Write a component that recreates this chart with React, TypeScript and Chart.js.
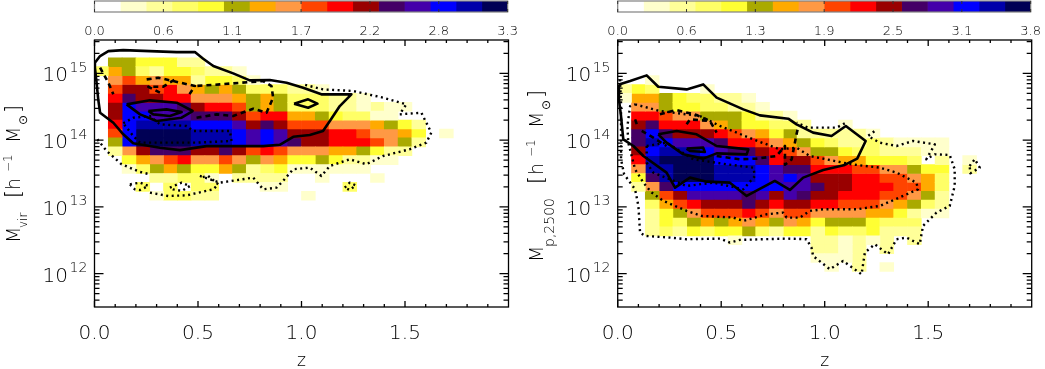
import React, { useEffect, useRef } from "react";
import { Chart, registerables } from "chart.js";

Chart.register(...registerables);

const LEVEL_COLORS = ["#FFFFFF", "#FFFFCC", "#FFFF99", "#FFFF66", "#FFFF33", "#AAAA00", "#FFAA00", "#FF9944", "#FF4400", "#FF0000", "#990000", "#440066", "#4400AA", "#0000FF", "#0000AA", "#000055"];
const X_TICKS = ["0.0", "0.5", "1.0", "1.5"];
const Y_EXPONENTS = [15, 14, 13, 12];
const BAR_LABELS_LEFT = ["0.0", "0.6", "1.1", "1.7", "2.2", "2.8", "3.3"];
const BAR_LABELS_RIGHT = ["0.0", "0.6", "1.3", "1.9", "2.5", "3.1", "3.8"];
const BAR_MAX_LEFT = 3.3;
const BAR_MAX_RIGHT = 3.8;

// Density level per cell: one hex digit per z bin, rows from the top of the plot, first row index 2.
const GRID_LEFT = [
  "055444220",
  "36532443221",
  "0786766244310",
  "08AA8976565333221",
  "09BAA997776565333221",
  "0ADCCCBA998565333221211",
  "0ADDCCCBBBA89966543311",
  "09DEEEEDDDCABA8887776542",
  "08DFFFFEEEDCDCAAA998776401",
  "05DFFFFEEEDCDCBAA9998752",
  "027ABBBAABA898777665422",
  "0046789778757644542211",
  "00135654465234111111",
  "000022331022220010001",
  "0003030330001100003",
  "0000133220000001",
];
const GRID_RIGHT = [
  "",
  "",
  "001",
  "2430001",
  "1665433221",
  "07754433221",
  "0998775554221",
  "0AB99976544332001",
  "0BDBAAA987645222221",
  "0BEDCCCB9987654322321111",
  "0ADEEEDCBBA9875543322211",
  "09EFFFFDDDB9AA876644430201",
  "07EEFFFEEEDCBB999887754402",
  "04BEFFFEEEDCDCAAA9988763",
  "027BDDDDDDDDCCBAA9998863",
  "0058ACCCCBCACBAA99988752",
  "003689AAABA9AA9988876532",
  "002457888987887777664211",
  "0024356567657645554333",
  "0023243445324424334222",
  "0000000010000022121202",
  "00000000000000221202",
  "000000000000001112",
  "00000000000000010201",
];

// Contours as [z, log10 M] pairs.
const L_SOLID = [[.002,15.16],[.027,15.26],[.067,15.334],[.139,15.349],[.268,15.334],[.397,15.319],[.485,15.319],[.525,15.22],[.574,15.11],[.67,15.0],[.75,14.895],[.847,14.9],[.928,14.86],[1.008,14.785],[1.096,14.686],[1.241,14.686],[1.185,14.51],[1.137,14.286],[1.104,14.137],[1.04,14.077],[.96,14.05],[.895,13.93],[.815,13.91],[.767,13.91],[.541,13.91],[.413,13.85],[.316,13.887],[.187,13.952],[.139,14.087],[.091,14.26],[.027,14.41],[.018,14.61],[.01,14.86],[.002,15.085],[.002,15.16]];
const L_SOLID_2 = [[.964,14.546],[1.032,14.611],[1.077,14.546],[1.032,14.486],[.964,14.546]];
const L_SOLID_3 = [[.155,14.536],[.268,14.596],[.397,14.561],[.474,14.436],[.421,14.336],[.3,14.286],[.22,14.386],[.155,14.536]];
const L_SOLID_4 = [[.26,14.436],[.348,14.461],[.421,14.421],[.364,14.361],[.284,14.386],[.26,14.436]];
const L_DASH_1 = [[.027,15.085],[.067,14.86],[.091,14.686]];
const L_DASH_2 = [[.252,14.91],[.308,14.935],[.38,14.885],[.485,14.81],[.453,14.661]];
const L_DASH_3 = [[.316,14.711],[.26,14.8],[.332,14.8],[.389,14.91]];
const L_DASH_4 = [[.493,14.336],[.59,14.386],[.67,14.361],[.767,14.471],[.831,14.411],[.863,14.636],[.855,14.81],[.815,14.885],[.606,14.835],[.485,14.81]];
const L_DOT_1 = [[.014,14.012],[.059,13.837],[.131,13.638],[.22,13.523],[.268,13.488]];
const L_DOT_2 = [[.509,13.463],[.606,13.363],[.767,13.438],[.815,13.263],[.879,13.288],[.911,13.388],[.959,13.563],[1.04,13.588],[1.096,13.463],[1.137,13.613],[1.233,13.713],[1.313,13.638],[1.394,13.762],[1.522,13.862],[1.603,13.962],[1.627,14.112],[1.603,14.261],[1.579,14.411],[1.474,14.386],[1.506,14.536],[1.394,14.636],[1.249,14.736],[1.104,14.76],[1.008,14.835]];
const L_DOT_3 = [[.171,13.338],[.22,13.363],[.26,13.313],[.22,13.253],[.195,13.263],[.171,13.338]];
const L_DOT_4 = [[.364,13.288],[.421,13.363],[.461,13.313],[.421,13.238],[.38,13.263],[.364,13.288]];
const L_DOT_5 = [[.268,13.213],[.356,13.163],[.445,13.173],[.574,13.263],[.598,13.338],[.549,13.463],[.509,13.438]];
const L_DOT_6 = [[1.209,13.288],[1.233,13.363],[1.262,13.323],[1.233,13.253],[1.209,13.288]];
const L_DOT_7 = [[.139,14.252],[.187,14.336],[.268,14.361],[.316,14.237],[.445,14.212],[.477,14.137],[.654,14.137],[.662,13.987],[.493,13.962],[.22,13.962],[.187,14.062],[.139,14.252]];

const R_SOLID = [[.006,14.835],[.06,14.885],[.14,14.97],[.196,14.8],[.333,14.76],[.413,14.835],[.478,14.636],[.607,14.461],[.687,14.371],[.824,14.321],[.864,14.237],[.944,14.112],[1.033,14.062],[1.102,14.212],[1.198,13.987],[1.157,13.723],[1.097,13.628],[.993,13.553],[.896,13.438],[.832,13.253],[.759,13.388],[.623,13.164],[.542,13.363],[.43,13.378],[.349,13.438],[.277,13.288],[.236,13.513],[.124,13.762],[.076,13.912],[.027,14.012],[.016,14.361],[.006,14.611],[.006,14.835]];
const R_SOLID_2 = [[.196,14.087],[.285,14.137],[.381,14.087],[.478,13.912],[.631,13.862],[.623,13.787],[.478,13.802],[.413,13.723],[.317,13.787],[.236,13.962],[.196,14.087]];
const R_SOLID_3 = [[.333,13.872],[.413,13.887],[.421,13.822],[.349,13.837],[.333,13.872]];
const R_DASH_1 = [[.204,14.386],[.285,14.451],[.381,14.376],[.446,14.286],[.478,14.112]];
const R_DASH_2 = [[.333,14.237],[.349,14.311],[.446,14.286]];
const R_DASH_3 = [[.084,14.311],[.095,14.212]];
const R_DASH_4 = [[.116,14.137],[.172,14.037],[.236,13.912]];
const R_DASH_5 = [[.478,13.762],[.59,13.713],[.671,13.723],[.767,13.762],[.808,13.912],[.808,13.63],[.84,13.71],[.864,14.087],[.872,14.2]];
const R_DOT_1 = [[.011,14.91],[.016,14.561],[.016,14.112],[.016,13.713],[.031,13.488],[.084,13.263],[.1,13.014],[.108,12.615],[.132,12.565],[.253,12.54],[.333,12.515],[.494,12.525],[.542,12.465],[.59,12.505],[.816,12.525],[.912,12.515],[.936,12.39],[.944,12.265],[1.025,12.066],[1.089,12.19],[1.178,11.99],[1.194,12.315],[1.242,12.44],[1.306,12.29],[1.347,12.515],[1.395,12.54],[1.459,12.44],[1.475,12.715],[1.54,12.914],[1.604,13.014],[1.628,13.313],[1.628,13.563],[1.604,13.777],[1.532,13.787],[1.491,13.713],[1.532,13.937],[1.427,13.987],[1.347,13.912],[1.266,13.962],[1.209,14.062],[1.242,14.137]];
const R_DOT_1B = [[1.097,14.251],[1.057,14.187],[.92,14.187],[.864,14.261]];
const R_DOT_2 = [[.084,14.536],[.204,14.436],[.397,14.361],[.494,14.212],[.655,14.012],[.783,13.862],[.864,13.887],[.928,13.762],[1.129,13.638],[1.266,13.588],[1.347,13.513],[1.443,13.363],[1.451,13.263],[1.379,13.164],[1.266,13.014],[1.154,12.964],[.993,12.964],[.928,12.939],[.88,12.839],[.816,12.839],[.8,12.914],[.719,12.889],[.606,12.79],[.558,12.84],[.405,12.865],[.333,12.94],[.22,13.09],[.164,13.215],[.124,13.363],[.084,13.563],[.051,13.962],[.047,14.212],[.06,14.51],[.084,14.536]];
const R_DOT_3 = [[1.7,13.613],[1.725,13.713],[1.749,13.588],[1.704,13.503],[1.7,13.613]];
const R_DOT_4 = [[.14,13.912],[.236,13.962],[.365,13.713],[.526,13.638],[.655,13.588],[.663,13.463],[.607,13.263],[.462,13.363],[.333,13.313],[.172,13.513],[.14,13.663],[.14,13.912]];

const SOLID_LEFT = [L_SOLID, L_SOLID_2, L_SOLID_3, L_SOLID_4];
const DASH_LEFT = [L_DASH_1, L_DASH_2, L_DASH_3, L_DASH_4];
const DOT_LEFT = [L_DOT_1, L_DOT_2, L_DOT_3, L_DOT_4, L_DOT_5, L_DOT_6, L_DOT_7];
const SOLID_RIGHT = [R_SOLID, R_SOLID_2, R_SOLID_3];
const DASH_RIGHT = [R_DASH_1, R_DASH_2, R_DASH_3, R_DASH_4, R_DASH_5];
const DOT_RIGHT = [R_DOT_1, R_DOT_1B, R_DOT_2, R_DOT_3, R_DOT_4];

const FONT = "'DejaVu Sans'";
const WEIGHT = "200";
const TEXT = "#000000";
const Z_MAX = 2;
const LOG_MIN = 11.5;
const LOG_MAX = 15.5;
const NBINS = 30;

function cellDatasets(rows: string[]) {
  const buckets: any[][] = LEVEL_COLORS.map(() => []);
  rows.forEach((row, i) => {
    const r = i + 2;
    const hi = LOG_MAX - (r * (LOG_MAX - LOG_MIN)) / NBINS;
    const lo = hi - (LOG_MAX - LOG_MIN) / NBINS;
    [...row].forEach((ch, k) => {
      const level = parseInt(ch, 16);
      if (level > 0) buckets[level].push({ x: ((k + 0.5) * Z_MAX) / NBINS, y: [10 ** lo, 10 ** hi] });
    });
  });
  return buckets.map((data, level) => ({
    type: "bar",
    label: "level " + level,
    data,
    backgroundColor: LEVEL_COLORS[level],
    grouped: false,
    barPercentage: 1,
    categoryPercentage: 1,
    order: 1,
  }));
}

function contourDatasets(paths: number[][][], width: number, dash: number[]) {
  return paths.map((p) => ({
    type: "line",
    label: "contour",
    data: p.map(([x, lg]) => ({ x, y: 10 ** lg })),
    borderColor: "#000",
    borderWidth: width,
    borderDash: dash,
    borderJoinStyle: "round",
    pointRadius: 0,
    fill: false,
    tension: 0,
    order: 0,
  }));
}

function rotText(ctx: any, text: string, size: number, xBase: number, yStart: number) {
  ctx.save();
  ctx.font = `${WEIGHT} ${size}px ${FONT}`;
  ctx.translate(xBase, yStart);
  ctx.rotate(-Math.PI / 2);
  ctx.textAlign = "left";
  ctx.textBaseline = "alphabetic";
  ctx.fillStyle = TEXT;
  ctx.fillText(text, 0, 0);
  ctx.restore();
}

function panelPlugin(titleParts: [string, number, number, number][]) {
  return {
    id: "panelDecor",
    afterDraw(chart: any) {
      const { ctx, chartArea: a, scales } = chart;
      const xs = scales.x;
      const ys = scales.y;
      ctx.save();
      ctx.strokeStyle = "#000";
      ctx.lineWidth = 1.3;
      ctx.strokeRect(a.left, a.top, a.right - a.left, a.bottom - a.top);
      ctx.beginPath();
      for (let i = 0; i <= 19; i++) {
        const px = xs.getPixelForValue(i / 10);
        const len = i % 5 === 0 ? 6 : 3;
        ctx.moveTo(px, a.bottom);
        ctx.lineTo(px, a.bottom - len);
        ctx.moveTo(px, a.top);
        ctx.lineTo(px, a.top + len);
      }
      for (let n = 11; n <= 15; n++) {
        for (let m = 1; m <= 9; m++) {
          const v = m * 10 ** n;
          if (v < 10 ** LOG_MIN || v > 10 ** LOG_MAX) continue;
          const py = ys.getPixelForValue(v);
          const len = m === 1 ? 9 : 5;
          ctx.moveTo(a.left, py);
          ctx.lineTo(a.left + len, py);
          ctx.moveTo(a.right, py);
          ctx.lineTo(a.right - len, py);
        }
      }
      ctx.stroke();
      ctx.fillStyle = TEXT;
      ctx.textAlign = "left";
      ctx.textBaseline = "alphabetic";
      Y_EXPONENTS.forEach((e) => {
        const py = ys.getPixelForValue(10 ** e);
        ctx.font = `${WEIGHT} 20px ${FONT}`;
        ctx.fillText("10", a.left - 52, py + 8);
        ctx.font = `${WEIGHT} 14px ${FONT}`;
        ctx.fillText(String(e), a.left - 25, py - 1.5);
      });
      ctx.restore();
      titleParts.forEach(([t, size, x, y]) => rotText(ctx, t, size, x, y));
    },
  };
}

function makePanel(canvas: HTMLCanvasElement, grid: string[], solid: number[][][], dash: number[][][], dot: number[][][], leftAxis: number, rightPad: number, titleParts: any) {
  return new Chart(canvas, {
    type: "bar",
    data: {
      datasets: [
        ...contourDatasets(solid, 2.6, []),
        ...contourDatasets(dash, 2.6, [5, 4]),
        ...contourDatasets(dot, 2.4, [2, 3.5]),
        ...cellDatasets(grid),
      ] as any,
    },
    options: {
      responsive: false,
      animation: false,
      events: [],
      layout: { padding: { left: 0, right: rightPad, top: 2, bottom: 0 } },
      plugins: { legend: { display: false }, tooltip: { enabled: false } },
      scales: {
        x: {
          type: "linear",
          offset: false,
          min: 0,
          max: Z_MAX,
          grid: { display: false },
          border: { display: false },
          afterFit: (s: any) => { s.height = 62; },
          afterBuildTicks: (s: any) => { s.ticks = X_TICKS.map((t) => ({ value: parseFloat(t) })); },
          ticks: {
            autoSkip: false,
            maxRotation: 0,
            padding: 7,
            color: TEXT,
            font: { family: FONT, size: 20, weight: WEIGHT },
            callback: (v: any) => Number(v).toFixed(1),
          },
          title: { display: true, text: "z", color: TEXT, font: { family: FONT, size: 17, weight: WEIGHT }, padding: { top: 0, bottom: -3 } },
        },
        y: {
          type: "logarithmic",
          bounds: "data",
          min: 10 ** LOG_MIN,
          max: 10 ** LOG_MAX,
          grid: { display: false },
          border: { display: false },
          ticks: { display: false },
          afterFit: (s: any) => { s.width = leftAxis; },
        },
      } as any,
    },
    plugins: [panelPlugin(titleParts)],
  } as any);
}

function colorbarPlugin() {
  return {
    id: "barDecor",
    afterDraw(chart: any) {
      const { ctx, chartArea: a, scales } = chart;
      ctx.save();
      ctx.strokeStyle = "#808080";
      ctx.lineWidth = 1.2;
      ctx.strokeRect(a.left, a.top, a.right - a.left, a.bottom - a.top);
      ctx.strokeStyle = "#333";
      ctx.lineWidth = 1;
      ctx.beginPath();
      scales.x.ticks.forEach((t: any) => {
        const px = scales.x.getPixelForValue(t.value);
        ctx.moveTo(px, a.top);
        ctx.lineTo(px, a.top + 3);
        ctx.moveTo(px, a.bottom);
        ctx.lineTo(px, a.bottom - 3);
      });
      ctx.stroke();
      ctx.restore();
    },
  };
}

function makeBar(canvas: HTMLCanvasElement, labels: string[], max: number, left: number, rightPad: number) {
  return new Chart(canvas, {
    type: "bar",
    data: {
      labels: ["scale"],
      datasets: LEVEL_COLORS.map((c, i) => ({
        label: "level " + i,
        data: [max / LEVEL_COLORS.length],
        backgroundColor: c,
        barPercentage: 1,
        categoryPercentage: 1,
      })),
    },
    options: {
      indexAxis: "y",
      responsive: false,
      animation: false,
      events: [],
      layout: { padding: { left, right: rightPad, top: 1, bottom: 0 } },
      plugins: { legend: { display: false }, tooltip: { enabled: false } },
      scales: {
        x: {
          type: "linear",
          stacked: true,
          min: 0,
          max,
          grid: { display: false },
          border: { display: false },
          afterFit: (s: any) => { s.height = 26; },
          afterBuildTicks: (s: any) => { s.ticks = labels.map((_, i) => ({ value: (max * i) / (labels.length - 1) })); },
          ticks: {
            autoSkip: false,
            maxRotation: 0,
            padding: 4,
            color: TEXT,
            font: { family: FONT, size: 13, weight: WEIGHT },
            callback: (_: any, i: number) => labels[i],
          },
        },
        y: { stacked: true, display: false },
      } as any,
    },
    plugins: [colorbarPlugin()],
  } as any);
}

export default function App() {
  const panelL = useRef<HTMLCanvasElement>(null);
  const panelR = useRef<HTMLCanvasElement>(null);
  const barL = useRef<HTMLCanvasElement>(null);
  const barR = useRef<HTMLCanvasElement>(null);

  useEffect(() => {
    const top = 38;
    const charts = [
      makePanel(panelL.current!, GRID_LEFT, SOLID_LEFT, DASH_LEFT, DOT_LEFT, 94.5, 13.5, [
        ["M", 19, 20, 243 - top], ["vir", 12, 27, 228 - top], ["[", 21, 20, 198 - top], ["h", 19, 20, 190 - top],
        ["\u22121", 12, 12, 172 - top], ["M", 19, 20, 143 - top], ["\u2299", 12, 27, 125 - top], ["]", 21, 20, 113 - top],
      ]),
      makePanel(panelR.current!, GRID_RIGHT, SOLID_RIGHT, DASH_RIGHT, DOT_RIGHT, 95.7, 13.3, [
        ["M", 19, 21, 262 - top], ["p,2500", 14, 32, 247 - top], ["[", 21, 21, 184 - top], ["h", 19, 21, 175 - top],
        ["\u22121", 12, 13, 157 - top], ["M", 19, 21, 128 - top], ["\u2299", 12, 28, 110 - top], ["]", 21, 21, 98 - top],
      ]),
      makeBar(barL.current!, BAR_LABELS_LEFT, BAR_MAX_LEFT, 94.5, 13.5),
      makeBar(barR.current!, BAR_LABELS_RIGHT, BAR_MAX_RIGHT, 95.7, 13.3),
    ];
    return () => charts.forEach((c) => c.destroy());
  }, []);

  const abs = (left: number, top: number): React.CSSProperties => ({ position: "absolute", left, top, display: "block" });
  return (
    <div style={{ position: "absolute", left: 0, top: 0, width: 1045, height: 369, background: "#fff", overflow: "hidden" }}>
      <canvas ref={panelL} width={522} height={331} style={abs(0, 38)} />
      <canvas ref={panelR} width={523} height={331} style={abs(522, 38)} />
      <canvas ref={barL} width={522} height={38} style={abs(0, 0)} />
      <canvas ref={barR} width={523} height={38} style={abs(522, 0)} />
    </div>
  );
}
